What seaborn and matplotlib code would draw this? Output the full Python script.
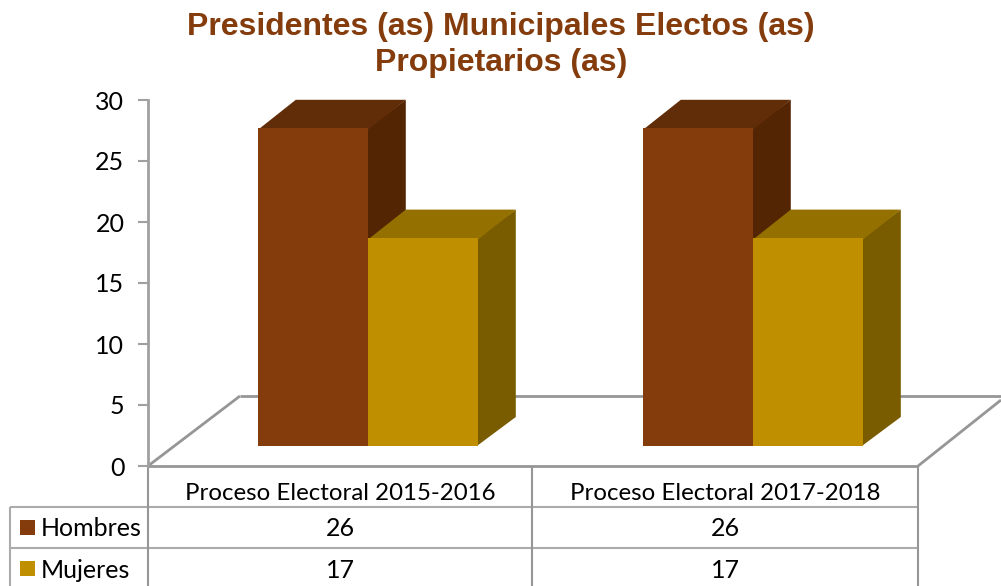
import matplotlib
matplotlib.use('Agg')
import matplotlib.pyplot as plt
from matplotlib.patches import Polygon, Rectangle
import pandas as pd
import seaborn as sns

# data
categories = ['Proceso Electoral 2015-2016', 'Proceso Electoral 2017-2018']
series_names = ['Hombres', 'Mujeres']
hombres = [26, 26]
mujeres = [17, 17]
y_ticks = [0, 5, 10, 15, 20, 25, 30]
title = 'Presidentes (as) Municipales Electos (as)\nPropietarios (as)'

# colours: front, top, side
COLORS = {'Hombres': ('#843C0C', '#612C08', '#542503'),
          'Mujeres': ('#BF8F00', '#937000', '#7A5C00')}
GREY = '#A0A0A0'
W, H = 1001, 586

sns.set_theme(style='white')
plt.rcParams['font.family'] = ['Lato', 'DejaVu Sans']

df = pd.DataFrame({
    'proceso': categories * 2,
    'serie': [series_names[0]] * 2 + [series_names[1]] * 2,
    'valor': hombres + mujeres,
})

fig = plt.figure(figsize=(W / 100, H / 100), dpi=100, facecolor='white')

# overlay in pixel coordinates for the floor and the data table
bg = fig.add_axes([0, 0, 1, 1], zorder=1)
bg.set_xlim(0, W)
bg.set_ylim(H, 0)
bg.axis('off')

# plot area 148..918 x 100..466 px
ax = fig.add_axes([148 / W, 1 - 466 / H, 770 / W, 366 / H], zorder=2)
ax.patch.set_visible(False)
sns.barplot(data=df, x='proceso', y='valor', hue='serie', hue_order=series_names,
            palette={k: v[0] for k, v in COLORS.items()}, width=0.5714, gap=0,
            dodge=True, legend=False, saturation=1, linewidth=0, ax=ax)
ax.set_xlim(-0.5722, 1.4278)
ax.set_ylim(0, 30)

# fake 3d: lift the bars off the axis and add the top and side faces
LIFT = 20.5 / 12.2
DX = 37.5 / 385
DY = 28.5 / 12.2
SEAM = 0.002  # faces run slightly under the front so no light line shows
bars = [p for p in ax.patches if p.get_height() > 0]
for i, bar in enumerate(bars):
    name = series_names[i // 2]
    bar.set_y(LIFT)
    bar.set_zorder(5)
    x0, x1 = bar.get_x(), bar.get_x() + bar.get_width()
    y0, y1 = LIFT, LIFT + bar.get_height()
    ax.add_patch(Polygon([(x0, y1 - 0.1), (x0 + DX, y1 + DY), (x1 + DX, y1 + DY), (x1, y1 - 0.1)],
                         facecolor=COLORS[name][1], edgecolor='none', clip_on=False, zorder=4))
    ax.add_patch(Polygon([(x1 - SEAM, y0), (x1 + DX, y0 + DY), (x1 + DX, y1 + DY), (x1 - SEAM, y1)],
                         facecolor=COLORS[name][2], edgecolor='none', clip_on=False, zorder=3))

ax.set_yticks(y_ticks)
ax.set_xticks([])
ax.set_xlabel('')
ax.set_ylabel('')
ax.tick_params(axis='y', left=True, length=7, width=1.5, color=GREY, labelsize=18,
               labelcolor='black', pad=10)
for side in ['top', 'right', 'bottom']:
    ax.spines[side].set_visible(False)
ax.spines['left'].set_color(GREY)
ax.spines['left'].set_linewidth(2)

# floor
line = dict(color='#969696', lw=2, solid_capstyle='butt')
bg.plot([148, 240], [466, 396], **line)
bg.plot([240, 1001], [396, 396], **line)
bg.plot([918, 1001], [466, 400], **line)
bg.plot([148, 918], [466, 466], **line)

# data table
thin = dict(color='#ABABAB', lw=1.5, solid_capstyle='butt')
bg.plot([10, 918], [507, 507], **thin)
bg.plot([10, 918], [548, 548], **thin)
bg.plot([10, 10], [507, 586], **thin)
for x in [148, 532, 918]:
    bg.plot([x, x], [466, 586], color='#969696', lw=1.5, solid_capstyle='butt')

centers = [340.5, 725]
rows = [(hombres, 529), (mujeres, 570)]
for c, cat in zip(centers, categories):
    bg.text(c, 494, cat, ha='center', va='center', fontsize=17.3, color='black')
for name, (vals, y) in zip(series_names, rows):
    bg.add_patch(Rectangle((20, y - 9), 15, 15, facecolor=COLORS[name][0], edgecolor='none'))
    bg.text(41, y, name, ha='left', va='center', fontsize=18, color='black')
    for c, v in zip(centers, vals):
        bg.text(c, y, str(v), ha='center', va='center', fontsize=18, color='black')

bg.text(501, 45, title, ha='center', va='center', fontsize=23, fontweight='bold',
        family='Liberation Sans', color='#843C0C', linespacing=1.22)

fig.savefig('out.png', dpi=100, facecolor='white')
